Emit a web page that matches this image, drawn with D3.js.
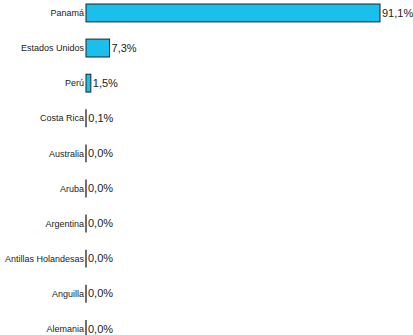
<!DOCTYPE html>
<html><head><meta charset="utf-8">
<script src="https://cdn.jsdelivr.net/npm/d3@7"></script>
<style>body{margin:0;background:#fff;} svg{display:block;}</style>
</head><body>
<svg id="c" width="413" height="335"></svg>
<script>
const categories = ["Panamá","Estados Unidos","Perú","Costa Rica","Australia","Aruba","Argentina","Antillas Holandesas","Anguilla","Alemania"];
const values = [91.1, 7.3, 1.5, 0.1, 0.0, 0.0, 0.0, 0.0, 0.0, 0.0];
const valueLabels = ["91,1%","7,3%","1,5%","0,1%","0,0%","0,0%","0,0%","0,0%","0,0%","0,0%"];

const svg = d3.select("#c");
const x = d3.scaleLinear().domain([0, d3.max(values)]).range([86, 380]);
const step = 35.1;
const y = d3.scaleBand().domain(categories)
  .range([-4.6, -4.6 + step * categories.length])
  .paddingInner(0.49).paddingOuter(0.245);

const data = categories.map((c, i) => ({c, v: values[i], l: valueLabels[i]}));

svg.selectAll("rect.bar").data(data.filter(d => x(d.v) - x(0) >= 1)).join("rect")
  .attr("class","bar")
  .attr("x", x(0))
  .attr("y", d => y(d.c))
  .attr("width", d => x(d.v) - x(0))
  .attr("height", y.bandwidth())
  .attr("fill", "#1bbfec")
  .attr("stroke", "#222")
  .attr("stroke-width", 1);

svg.selectAll("line.zero").data(data.filter(d => x(d.v) - x(0) < 1)).join("line")
  .attr("class","zero")
  .attr("x1", x(0)).attr("x2", x(0))
  .attr("y1", d => y(d.c)).attr("y2", d => y(d.c) + y.bandwidth())
  .attr("stroke", "#222")
  .attr("stroke-width", 1.3);

svg.selectAll("text.cat").data(data).join("text")
  .attr("class","cat")
  .attr("x", x(0) - 2)
  .attr("y", d => y(d.c) + y.bandwidth()/2)
  .attr("dy", "0.35em")
  .attr("text-anchor","end")
  .attr("font-family","Liberation Sans, Arial, sans-serif")
  .attr("font-size", 9)
  .attr("fill","#222")
  .text(d => d.c);

svg.selectAll("text.val").data(data).join("text")
  .attr("class","val")
  .attr("x", d => x(d.v) + 2)
  .attr("y", d => y(d.c) + y.bandwidth()/2)
  .attr("dy", "0.34em")
  .attr("font-family","Liberation Sans, Arial, sans-serif")
  .attr("font-size", 11)
  .attr("fill","#222")
  .text(d => d.l);
</script>
</body></html>
